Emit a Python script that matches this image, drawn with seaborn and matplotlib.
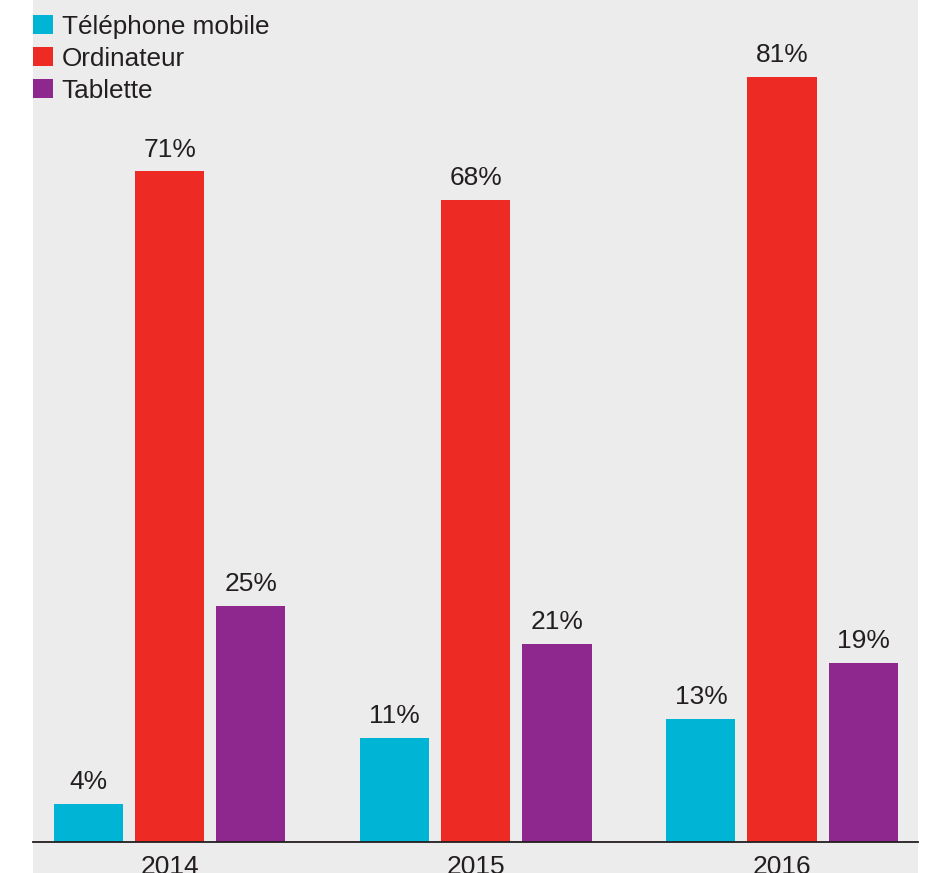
import matplotlib
matplotlib.use("Agg")
import matplotlib.pyplot as plt
import matplotlib.patches as mpatches
import seaborn as sns
import pandas as pd

years = ["2014", "2015", "2016"]
devices = ["Téléphone mobile", "Ordinateur", "Tablette"]
mobile = [4, 11, 13]
ordinateur = [71, 68, 81]
tablette = [25, 21, 19]
colors = ["#00b4d5", "#ee2a24", "#8e278e"]

rows = []
for i, y in enumerate(years):
    for d, vals in zip(devices, [mobile, ordinateur, tablette]):
        rows.append({"Année": y, "Appareil": d, "Valeur": vals[i]})
df = pd.DataFrame(rows)

sns.set_style("white")
plt.rcParams["font.family"] = ["Liberation Sans", "DejaVu Sans"]
txt = "#231f20"

W, H = 929, 873
fig = plt.figure(figsize=(W / 100, H / 100), dpi=100, facecolor="white")
# gray panel
fig.patches.append(mpatches.Rectangle((33 / W, 0), (918 - 33) / W, 1,
                                      transform=fig.transFigure,
                                      facecolor="#ececec", edgecolor="none", zorder=-10))
ax = fig.add_axes([33 / W, (H - 842) / H, (918 - 33) / W, 842 / H])
ax.set_facecolor("none")
ax.set_zorder(1)

sns.barplot(data=df, x="Année", y="Valeur", hue="Appareil", hue_order=devices,
            palette=colors, width=0.795, gap=0.148, saturation=1,
            linewidth=0, ax=ax, legend=False)

for cont in ax.containers:
    ax.bar_label(cont, labels=[f"{int(v)}%" for v in cont.datavalues],
                 padding=7, fontsize=19, color=txt)

ax.set_ylim(0, 842 / 9.445)
ax.set_xlim(-0.446, 2.444)
ax.set_xlabel("")
ax.set_ylabel("")
ax.set_yticks([])
ax.tick_params(axis="x", length=0, pad=9, labelsize=19, labelcolor=txt)
for s in ["top", "left", "right"]:
    ax.spines[s].set_visible(False)
ax.spines["bottom"].set_color(txt)
ax.spines["bottom"].set_linewidth(1.3)

handles = [mpatches.Patch(facecolor=c, edgecolor="none") for c in colors]
leg = fig.legend(handles, devices, loc="upper left",
                 bbox_to_anchor=(33 / W, 1 - 15 / H), bbox_transform=fig.transFigure,
                 frameon=False, fontsize=18.8, handlelength=0.75, handleheight=0.75,
                 handletextpad=0.35, labelspacing=0.3, borderpad=0, borderaxespad=0)
leg.set_zorder(5)
for t in leg.get_texts():
    t.set_color(txt)

fig.savefig("out.png", dpi=100, facecolor="white")
